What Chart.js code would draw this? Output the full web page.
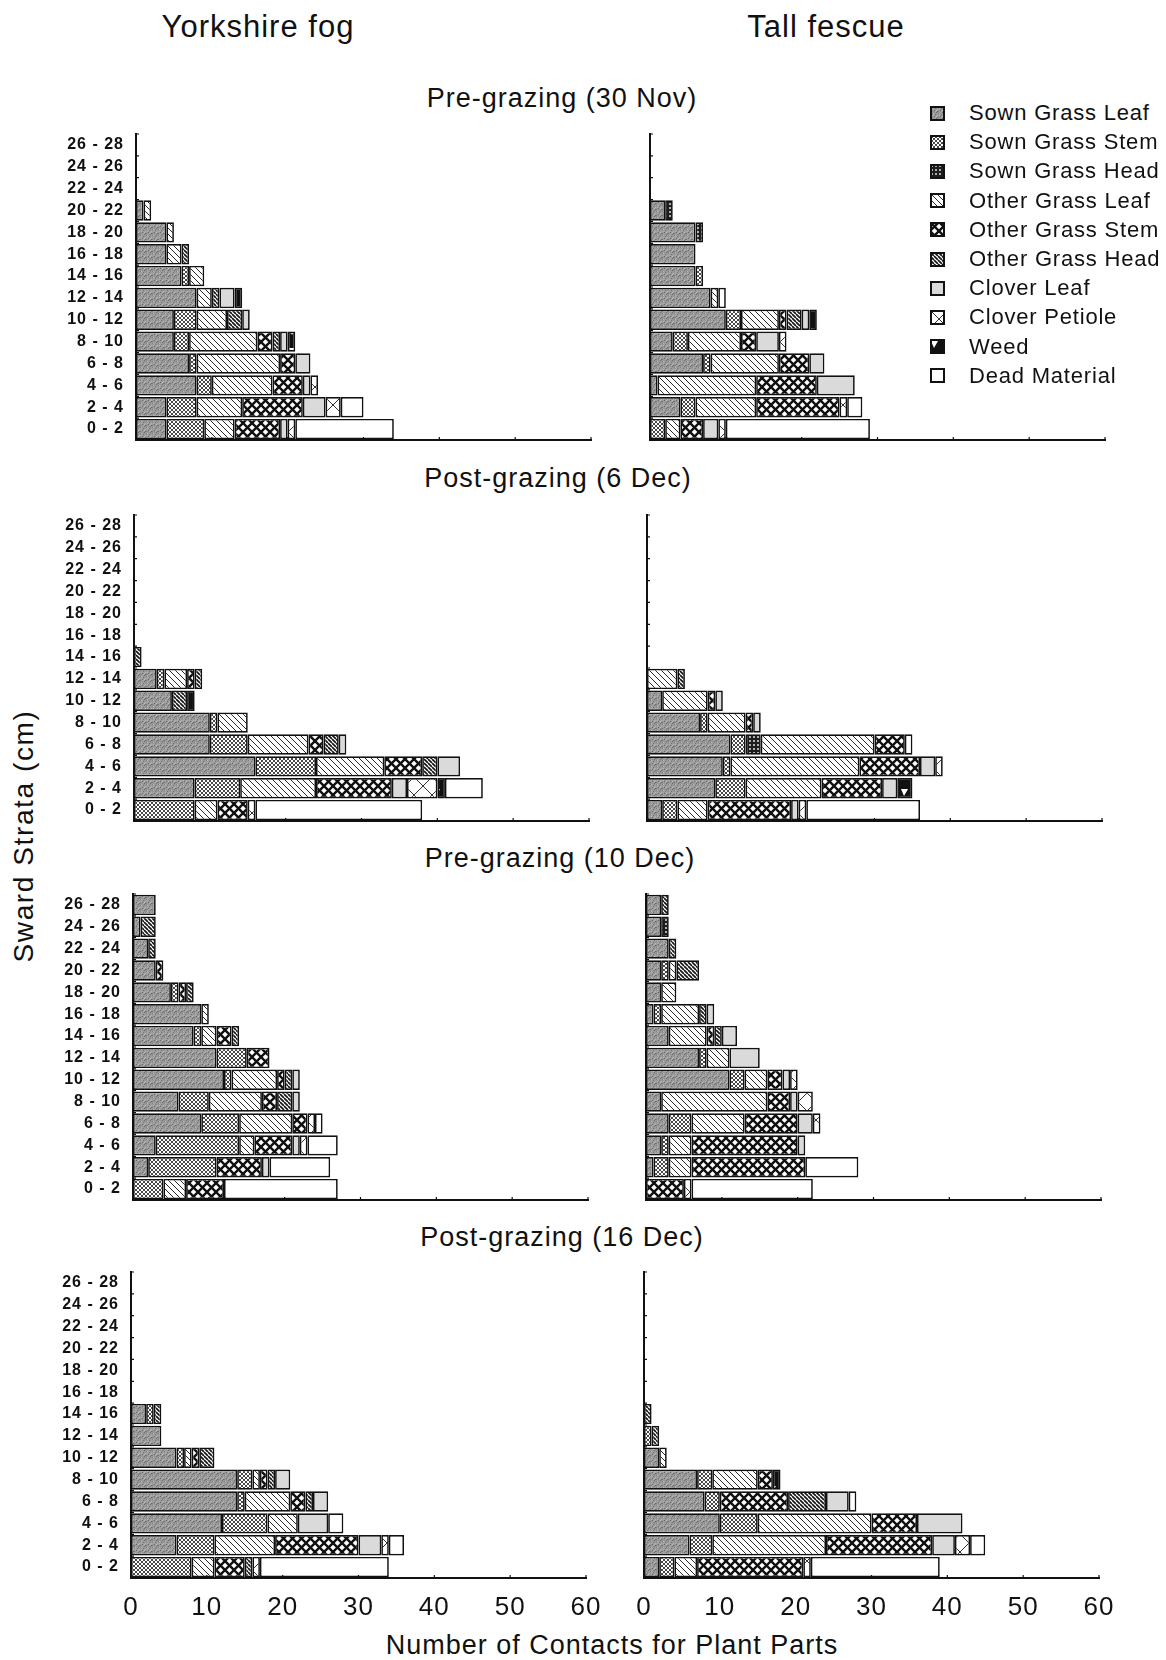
<!DOCTYPE html>
<html><head><meta charset="utf-8">
<script src="https://cdn.jsdelivr.net/npm/chart.js@4.4.1/dist/chart.umd.min.js"></script>
<style>
html,body{margin:0;padding:0;background:#fff;}
body{width:1166px;height:1660px;position:relative;overflow:hidden;font-family:'Liberation Sans',Arial,sans-serif;color:#111;}
.t{position:absolute;white-space:nowrap;transform:translate(-50%,-50%);}
.col{font-size:31px;letter-spacing:1px;}
.pt{font-size:27px;letter-spacing:1px;}
.ax{font-size:27px;letter-spacing:1px;}
.yt{font-size:28px;letter-spacing:1.6px;transform:translate(-50%,-50%) rotate(-90deg);}
canvas.c{position:absolute;}
.li{position:absolute;left:930px;height:22px;display:flex;align-items:center;font-size:22px;letter-spacing:0.8px;z-index:5;}
.li canvas{margin-right:24px;}
</style></head><body>
<div class="t col" style="left:258px;top:27px">Yorkshire fog</div>
<div class="t col" style="left:826px;top:27px">Tall fescue</div>
<div class="t pt" style="left:562px;top:98px">Pre-grazing (30 Nov)</div>
<div class="t pt" style="left:558px;top:478px">Post-grazing (6 Dec)</div>
<div class="t pt" style="left:560px;top:858px">Pre-grazing (10 Dec)</div>
<div class="t pt" style="left:562px;top:1237px">Post-grazing (16 Dec)</div>
<div class="t yt" style="left:24px;top:836px">Sward Strata (cm)</div>
<div class="t ax" style="left:612px;top:1645px">Number of Contacts for Plant Parts</div>
<script>
// ---- categories / series ----
const strata = ['0 - 2','2 - 4','4 - 6','6 - 8','8 - 10','10 - 12','12 - 14','14 - 16','16 - 18','18 - 20','20 - 22','22 - 24','24 - 26','26 - 28'];
const seriesNames = ['Sown Grass Leaf','Sown Grass Stem','Sown Grass Head','Other Grass Leaf','Other Grass Stem','Other Grass Head','Clover Leaf','Clover Petiole','Weed','Dead Material'];
const xTickValues = [0,10,20,30,40,50,60];

// ---- values: one row per series (order as seriesNames), one entry per stratum (0-2 first) ----
const yf30Nov = [
  [4,4,8,7,5,5,8,6,4,4,1,0,0,0],
  [5,4,2,1,2,3,0,1,0,0,0,0,0,0],
  [0,0,0,0,0,0,0,0,0,0,0,0,0,0],
  [4,6,8,11,9,4,2,2,2,1,1,0,0,0],
  [6,8,4,2,2,0,0,0,0,0,0,0,0,0],
  [0,0,0,0,1,2,1,0,1,0,0,0,0,0],
  [1,3,1,2,1,1,2,0,0,0,0,0,0,0],
  [1,2,1,0,0,0,0,0,0,0,0,0,0,0],
  [0,0,0,0,1,0,1,0,0,0,0,0,0,0],
  [13,3,0,0,0,0,0,0,0,0,0,0,0,0]
];
const tf30Nov = [
  [0,4,1,7,3,10,8,6,6,6,2,0,0,0],
  [2,2,0,1,2,2,0,1,0,0,0,0,0,0],
  [0,0,0,0,0,0,0,0,0,1,1,0,0,0],
  [2,8,13,9,7,5,1,0,0,0,0,0,0,0],
  [3,11,8,4,2,1,0,0,0,0,0,0,0,0],
  [0,0,0,0,0,2,0,0,0,0,0,0,0,0],
  [2,0,5,2,3,1,0,0,0,0,0,0,0,0],
  [1,1,0,0,1,0,0,0,0,0,0,0,0,0],
  [0,0,0,0,0,1,0,0,0,0,0,0,0,0],
  [19,2,0,0,0,0,1,0,0,0,0,0,0,0]
];
const yf6Dec = [
  [0,8,16,10,10,5,3,0,0,0,0,0,0,0],
  [8,6,8,5,1,0,1,0,0,0,0,0,0,0],
  [0,0,0,0,0,0,0,0,0,0,0,0,0,0],
  [3,10,9,8,4,0,3,0,0,0,0,0,0,0],
  [4,10,5,2,0,0,1,0,0,0,0,0,0,0],
  [0,0,2,2,0,2,1,1,0,0,0,0,0,0],
  [0,2,3,1,0,0,0,0,0,0,0,0,0,0],
  [1,4,0,0,0,0,0,0,0,0,0,0,0,0],
  [0,1,0,0,0,1,0,0,0,0,0,0,0,0],
  [22,5,0,0,0,0,0,0,0,0,0,0,0,0]
];
const tf6Dec = [
  [2,9,10,11,7,2,0,0,0,0,0,0,0,0],
  [2,4,1,2,1,0,0,0,0,0,0,0,0,0],
  [0,0,0,2,0,0,0,0,0,0,0,0,0,0],
  [4,10,17,15,5,6,4,0,0,0,0,0,0,0],
  [11,8,8,4,1,1,0,0,0,0,0,0,0,0],
  [0,0,0,0,0,0,1,0,0,0,0,0,0,0],
  [1,2,2,0,1,1,0,0,0,0,0,0,0,0],
  [1,0,1,0,0,0,0,0,0,0,0,0,0,0],
  [0,2,0,0,0,0,0,0,0,0,0,0,0,0],
  [15,0,0,1,0,0,0,0,0,0,0,0,0,0]
];
const yf10Dec = [
  [0,2,3,9,6,12,11,8,9,5,3,2,1,3],
  [4,9,11,5,4,1,4,1,0,1,0,0,0,0],
  [0,0,0,0,0,0,0,0,0,0,0,0,0,0],
  [3,0,2,7,7,6,0,2,1,0,0,0,0,0],
  [5,6,5,2,2,1,3,2,0,1,1,0,0,0],
  [0,0,0,0,2,1,0,1,0,1,0,1,2,0],
  [0,1,1,0,1,1,0,0,0,0,0,0,0,0],
  [0,0,1,1,0,0,0,0,0,0,0,0,0,0],
  [0,0,0,0,0,0,0,0,0,0,0,0,0,0],
  [15,8,4,1,0,0,0,0,0,0,0,0,0,0]
];
const tf10Dec = [
  [0,1,2,3,2,11,7,3,1,2,2,3,2,2],
  [0,2,1,3,0,2,1,0,1,0,1,0,0,0],
  [0,0,0,0,0,0,0,0,0,0,0,0,1,0],
  [0,3,3,7,14,3,3,5,5,2,1,0,0,0],
  [5,15,14,7,3,2,0,1,0,0,0,0,0,0],
  [0,0,0,0,0,0,0,1,1,0,3,1,0,1],
  [0,0,1,2,1,1,4,2,1,0,0,0,0,0],
  [1,0,0,1,2,1,0,0,0,0,0,0,0,0],
  [0,0,0,0,0,0,0,0,0,0,0,0,0,0],
  [16,7,0,0,0,0,0,0,0,0,0,0,0,0]
];
const yf16Dec = [
  [0,6,12,14,14,6,4,2,0,0,0,0,0,0],
  [8,5,6,1,2,1,0,1,0,0,0,0,0,0],
  [0,0,0,0,0,0,0,0,0,0,0,0,0,0],
  [3,8,4,6,1,1,0,0,0,0,0,0,0,0],
  [4,11,0,2,1,1,0,0,0,0,0,0,0,0],
  [1,0,0,1,1,2,0,1,0,0,0,0,0,0],
  [0,3,4,2,2,0,0,0,0,0,0,0,0,0],
  [1,1,0,0,0,0,0,0,0,0,0,0,0,0],
  [0,0,0,0,0,0,0,0,0,0,0,0,0,0],
  [17,2,2,0,0,0,0,0,0,0,0,0,0,0]
];
const tf16Dec = [
  [2,6,10,8,7,2,0,0,0,0,0,0,0,0],
  [2,3,5,2,2,0,1,0,0,0,0,0,0,0],
  [0,0,0,0,0,0,0,0,0,0,0,0,0,0],
  [3,15,15,0,6,1,0,0,0,0,0,0,0,0],
  [14,14,6,9,2,0,0,0,0,0,0,0,0,0],
  [0,0,0,5,0,0,1,1,0,0,0,0,0,0],
  [0,3,6,3,0,0,0,0,0,0,0,0,0,0],
  [1,2,0,0,0,0,0,0,0,0,0,0,0,0],
  [0,0,0,0,1,0,0,0,0,0,0,0,0,0],
  [17,2,0,1,0,0,0,0,0,0,0,0,0,0]
];

// ---- layout (pixels) ----
const PLOT_H = 306, PLOT_W = 455;
const panels = [
  {values: yf30Nov, left: true,  top: 134,  origin: 136, bottomAxis: false},
  {values: tf30Nov, left: false, top: 134,  origin: 650, bottomAxis: false},
  {values: yf6Dec,  left: true,  top: 515,  origin: 134, bottomAxis: false},
  {values: tf6Dec,  left: false, top: 515,  origin: 647, bottomAxis: false},
  {values: yf10Dec, left: true,  top: 894,  origin: 133, bottomAxis: false},
  {values: tf10Dec, left: false, top: 894,  origin: 646, bottomAxis: false},
  {values: yf16Dec, left: true,  top: 1272, origin: 131, bottomAxis: true},
  {values: tf16Dec, left: false, top: 1272, origin: 644, bottomAxis: true}
];

// ---- patterns ----
function tile(w, h, draw) {
  const c = document.createElement('canvas'); c.width = w; c.height = h;
  const g = c.getContext('2d'); draw(g, w, h); return c;
}
function diag(g, w, h, dir, lw, color) {
  g.strokeStyle = color; g.lineWidth = lw; g.beginPath();
  for (let k = -1; k <= 1; k++) {
    if (dir > 0) { g.moveTo(k * w, 0); g.lineTo(k * w + w, h); }
    else { g.moveTo(k * w + w, 0); g.lineTo(k * w, h); }
  }
  g.stroke();
}
const speck = [[0,0,'#6a6a6a'],[3,1,'#bcbcbc'],[5,2,'#707070'],[1,3,'#b4b4b4'],[4,4,'#666'],[2,5,'#7a7a7a'],[0,4,'#c0c0c0'],[5,5,'#aaa'],[2,1,'#7c7c7c'],[4,2,'#a8a8a8'],[1,5,'#6e6e6e'],[3,3,'#b0b0b0']];
const tiles = [
  tile(6,6,(g,w,h)=>{g.fillStyle='#999';g.fillRect(0,0,w,h);speck.forEach(s=>{g.fillStyle=s[2];g.fillRect(s[0],s[1],1,1);});}),
  tile(4,4,(g,w,h)=>{g.fillStyle='#fff';g.fillRect(0,0,w,h);diag(g,w,h,1,0.9,'#333');diag(g,w,h,-1,0.9,'#333');}),
  tile(4,4,(g,w,h)=>{g.fillStyle='#1c1c1c';g.fillRect(0,0,w,h);g.fillStyle='#eee';g.beginPath();g.arc(2,2,0.95,0,Math.PI*2);g.fill();}),
  tile(6,6,(g,w,h)=>{g.fillStyle='#fff';g.fillRect(0,0,w,h);diag(g,w,h,1,1,'#2a2a2a');}),
  tile(9,9,(g,w,h)=>{g.fillStyle='#fff';g.fillRect(0,0,w,h);diag(g,w,h,1,2.4,'#111');diag(g,w,h,-1,2.4,'#111');}),
  tile(4,4,(g,w,h)=>{g.fillStyle='#fff';g.fillRect(0,0,w,h);diag(g,w,h,1,1.7,'#161616');}),
  tile(4,4,(g,w,h)=>{g.fillStyle='#dadada';g.fillRect(0,0,w,h);}),
  tile(18,18,(g,w,h)=>{g.fillStyle='#fff';g.fillRect(0,0,w,h);diag(g,w,h,1,1,'#333');diag(g,w,h,-1,1,'#333');}),
  tile(12,20,(g,w,h)=>{g.fillStyle='#111';g.fillRect(0,0,w,h);g.fillStyle='#fff';g.beginPath();g.moveTo(1,2);g.lineTo(8,2);g.lineTo(4,9);g.closePath();g.fill();}),
  tile(4,4,(g,w,h)=>{g.fillStyle='#fff';g.fillRect(0,0,w,h);})
];
const ctxTmp = document.createElement('canvas').getContext('2d');
const patterns = tiles.map(t => ctxTmp.createPattern(t, 'repeat'));

// ---- legend ----
seriesNames.forEach((name, i) => {
  const d = document.createElement('div'); d.className = 'li';
  d.style.top = (113 + i * 29.2 - 11) + 'px';
  const sw = document.createElement('canvas'); sw.width = 15; sw.height = 15;
  const g = sw.getContext('2d');
  g.fillStyle = g.createPattern(tiles[i], 'repeat'); g.fillRect(0, 0, 15, 15);
  g.strokeStyle = '#111'; g.lineWidth = 2; g.strokeRect(1, 1, 13, 13);
  d.appendChild(sw);
  const s = document.createElement('span'); s.textContent = name; d.appendChild(s);
  document.body.appendChild(d);
});

// ---- plugins ----
const spacingPlugin = {id: 'spacing', beforeDraw(c) { c.ctx.letterSpacing = '1px'; }};
const innerTicks = {
  id: 'innerTicks',
  afterDraw(c) {
    const ctx = c.ctx, xs = c.scales.x, ys = c.scales.y, a = c.chartArea;
    ctx.save(); ctx.strokeStyle = '#111'; ctx.lineWidth = 1.2; ctx.beginPath();
    xTickValues.forEach(v => { if (v === 0) return; const px = xs.getPixelForValue(v); ctx.moveTo(px, a.bottom); ctx.lineTo(px, a.bottom - 3); });
    for (let i = 0; i <= strata.length; i++) {
      const py = ys.getPixelForValue(i - 0.5);
      ctx.moveTo(a.left, py); ctx.lineTo(a.left + 3, py);
    }
    ctx.stroke(); ctx.restore();
  }
};

// ---- charts ----
panels.forEach(p => {
  const cv = document.createElement('canvas'); cv.className = 'c';
  const cLeft = p.left ? 0 : 600;
  const W = p.left ? 600 : 560;
  const xH = p.bottomAxis ? 60 : 0;
  const padT = 8, padB = 8;
  const H = padT + PLOT_H + xH + padB;
  cv.width = W; cv.height = H;
  cv.style.left = cLeft + 'px'; cv.style.top = (p.top - padT) + 'px';
  cv.style.width = W + 'px'; cv.style.height = H + 'px';
  document.body.appendChild(cv);
  const yW = p.origin - cLeft;
  const padR = W - yW - PLOT_W;
  new Chart(cv, {
    type: 'bar',
    data: {
      labels: strata,
      datasets: seriesNames.map((n, i) => ({
        label: n,
        data: p.values[i].map(v => v === 0 ? null : v),
        backgroundColor: patterns[i],
        borderColor: '#111', borderWidth: 1.7, borderSkipped: false,
        barPercentage: 0.93, categoryPercentage: 1
      }))
    },
    options: {
      indexAxis: 'y', responsive: false, animation: false, devicePixelRatio: 1,
      layout: {padding: {top: padT, bottom: padB, left: 0, right: padR}},
      plugins: {legend: {display: false}, tooltip: {enabled: false}},
      scales: {
        x: {
          type: 'linear', stacked: true, min: 0, max: 60,
          grid: {display: false, drawTicks: false},
          border: {display: true, color: '#111', width: 2},
          ticks: {display: p.bottomAxis, stepSize: 10, padding: 14, color: '#111',
                  font: {family: 'Liberation Sans', size: 26}},
          afterFit: s => { s.height = xH; s.paddingLeft = 0; s.paddingRight = 0; s.paddingTop = 0; s.paddingBottom = 0; }
        },
        y: {
          type: 'category', stacked: true, reverse: true,
          grid: {display: false, drawTicks: false},
          border: {display: true, color: '#111', width: 2},
          ticks: {display: p.left, autoSkip: false, padding: 12, color: '#111',
                  font: {family: 'Liberation Sans', size: 16, weight: 'bold'}},
          afterFit: s => { s.width = yW; s.paddingTop = 0; s.paddingBottom = 0; s.paddingLeft = 0; s.paddingRight = 0; }
        }
      }
    },
    plugins: [spacingPlugin, innerTicks]
  });
});
</script>
</body></html>
